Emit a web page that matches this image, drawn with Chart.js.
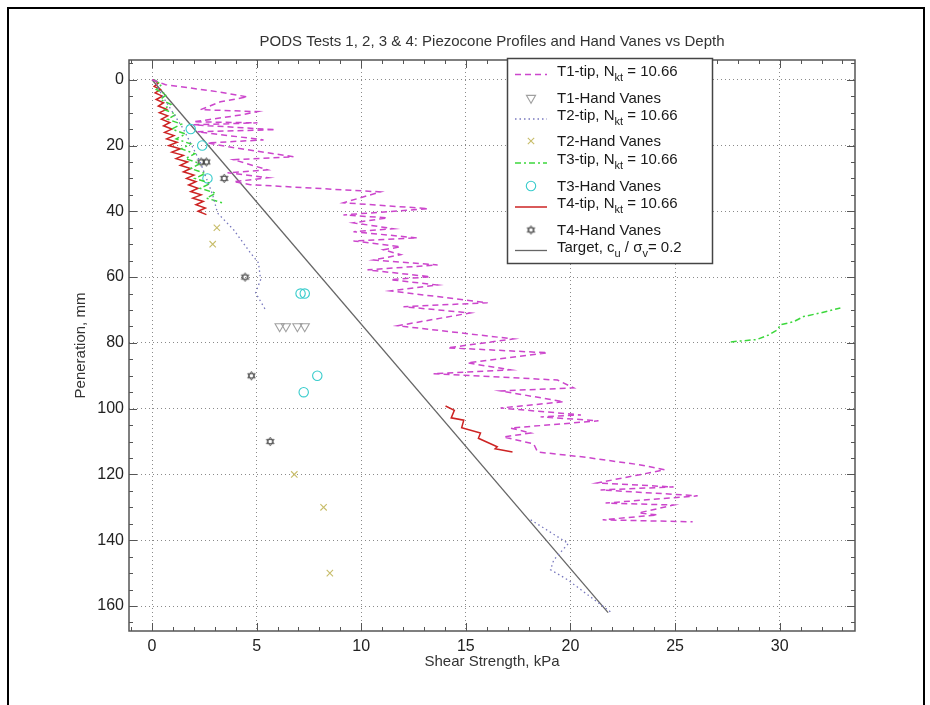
<!DOCTYPE html>
<html><head><meta charset="utf-8">
<script src="https://cdn.jsdelivr.net/npm/chart.js@4.4.1/dist/chart.umd.min.js"></script>
<style>
html,body{margin:0;padding:0;background:#fff;overflow:hidden;}
#wrap{position:relative;width:930px;height:705px;}
#frame{position:absolute;left:7px;top:7px;width:914px;height:720px;border:2px solid #000;pointer-events:none;}
canvas{position:absolute;left:0;top:0;}
</style></head><body>
<div id="wrap"><canvas id="c" width="930" height="705"></canvas><div id="frame"></div></div>
<script>
// ---------- data ----------
const chartTitle = 'PODS Tests 1, 2, 3 & 4: Piezocone Profiles and Hand Vanes vs Depth';
const xAxisTitle = 'Shear Strength, kPa';
const yAxisTitle = 'Peneration, mm';
const xTicks = [0, 5, 10, 15, 20, 25, 30];
const yTicks = [0, 20, 40, 60, 80, 100, 120, 140, 160];

const t1X = [0,0.65,3.13,4.56,3.27,2.32,5.04,4.37,1.98,5.04,1.98,5.9,2.17,5.33,2.65,3.66,6.76,3.9,5.52,3.61,5.57,3.9,4.7,10.92,9.15,13.2,9.15,11.25,9.63,11.54,9.63,12.69,9.63,11.88,11.07,11.88,10.59,13.65,10.3,13.3,11.4,13.65,11.4,16.04,12.02,15.2,11.74,17.28,14.13,18.9,15.08,17.14,13.45,19.38,20.15,16.66,19.67,16.66,20.5,18.57,21.34,17.14,18.1,16.8,18.24,18.43,20.63,23.35,24.5,21.27,24.93,21.44,26.08,21.68,24.93,23.26,24.16,21.54,25.84];
const t1Y = [0,1.5,3.65,5.2,6.7,9.1,9.7,10.6,12.8,13.1,13.7,15.2,15.8,18.3,19.2,20.4,23.4,24.3,27.4,28.3,29.8,31,31.9,34.1,37.4,39.2,41.1,42,43.5,45.3,46.2,48.1,49,50.8,51.7,53.2,54.8,56.3,57.8,59.9,60.8,62.4,64.2,67.8,69,70.9,74.8,78.8,81.5,83,86.1,88.2,89.4,91.3,93.7,94.6,97.9,99.8,101.9,102.5,103.7,105.9,107.4,108.6,110.7,113.2,114.7,117.1,118.6,122.6,123.8,124.7,126.5,128.7,129.3,131.7,132.3,133.8,134.4];

const t2X = [0.1,0.5,1.0,1.5,1.9,2.3,2.6,2.9,3.13,3.9,4.7,5.09,5.19,4.95,5.43,null,18.1,19.9,19.2,19.05,19.86,22.0];
const t2Y = [0,5,10,15,20,25,30,35,40.5,45.6,52.6,55.7,60.8,64.8,70,null,133.8,141,146,149,152,162.2];

const t3X = [0.1,0.45,0.2,0.7,0.4,0.9,0.55,1.15,0.75,1.4,0.95,1.6,1.15,1.85,1.4,2.05,1.6,2.3,1.85,2.55,2.05,2.8,2.3,3.05,2.6,3.4,null,27.66,28.9,29.47,29.9,30.04,30.66,31.14,31.95,32.9];
const t3Y = [0,1.5,3,4.5,6,7.5,9,10.5,12,13.5,15,16.5,18,19.5,21,22.5,24,25.5,27,28.5,30,31.5,33,34.5,36,37.5,null,79.7,79,77.6,76,74.5,73.6,72,70.9,69.4];

const t4X = [0.05,0.3,0.1,0.4,0.15,0.5,0.2,0.55,0.3,0.7,0.35,0.75,0.45,0.85,0.55,0.95,0.6,1.05,0.7,1.2,0.8,1.35,0.95,1.5,1.15,1.7,1.35,1.85,1.5,2.0,1.65,2.1,1.75,2.2,1.85,2.35,1.95,2.45,2.1,2.55,2.2,2.6,null,14.03,14.45,14.3,14.9,14.8,15.7,15.6,16.5,16.4,17.23];
const t4Y = [0,1,2,3,4,5,6,7,8,9,10,11,12,13,14,15,16,17,18,19,20,21,22,23,24,25,26,27,28,29,30,31,32,33,34,35,36,37,38,39,40,41,null,99.2,100.5,102.8,103.5,105.8,107.4,109,111.6,112.2,113.2];

const hv1X = [6.1, 6.4, 6.95, 7.3];
const hv1Y = [75, 75, 75, 75];
const hv2X = [3.1, 2.9, 6.8, 8.2, 8.5];
const hv2Y = [45, 50, 120, 130, 150];
const hv3X = [1.85, 2.4, 2.65, 7.1, 7.3, 7.9, 7.25];
const hv3Y = [15, 20, 30, 65, 65, 90, 95];
const hv4X = [2.35, 2.6, 3.45, 4.45, 4.75, 5.65];
const hv4Y = [25, 25, 30, 60, 90, 110];

const targetX = [0, 21.8];
const targetY = [0, 162];

const legendLabels = [
  ['T1-tip, N', 'kt', ' = 10.66'],
  ['T1-Hand Vanes'],
  ['T2-tip, N', 'kt', ' = 10.66'],
  ['T2-Hand Vanes'],
  ['T3-tip, N', 'kt', ' = 10.66'],
  ['T3-Hand Vanes'],
  ['T4-tip, N', 'kt', ' = 10.66'],
  ['T4-Hand Vanes'],
  ['Target, c', 'u', ' / \u03c3', 'v', '= 0.2']
];

// ---------- helpers ----------
const pts = (xs, ys) => xs.map((x, i) => ({x: x, y: ys[i]}));
const FONT = '"Liberation Sans", Arial, sans-serif';
Chart.defaults.font.family = FONT;

function makeHex() {
  const c = document.createElement('canvas');
  c.width = 11; c.height = 11;
  const g = c.getContext('2d');
  g.strokeStyle = '#444'; g.lineWidth = 0.9;
  const cx = 5.5, cy = 5.5, r = 4.3;
  [-Math.PI / 2, Math.PI / 2].forEach(off => {
    g.beginPath();
    for (let k = 0; k < 3; k++) {
      const a = off + k * 2 * Math.PI / 3;
      const px = cx + r * Math.cos(a), py = cy + r * Math.sin(a);
      if (k) g.lineTo(px, py); else g.moveTo(px, py);
    }
    g.closePath(); g.stroke();
  });
  return c;
}
const hexImg = makeHex();

const lineDs = (label, xs, ys, color, dash, w) => ({
  label, data: pts(xs, ys), showLine: true, borderColor: color, backgroundColor: color,
  borderWidth: w, borderDash: dash, pointRadius: 0, pointHoverRadius: 0, spanGaps: false, tension: 0
});
const markDs = (label, xs, ys, color, style, r, rot) => ({
  label, data: pts(xs, ys), showLine: false, borderColor: color, backgroundColor: 'rgba(0,0,0,0)',
  pointStyle: style, pointRadius: r, pointHoverRadius: r, pointBorderWidth: 1.1, pointRotation: rot || 0
});

const datasets = [
  lineDs('T1-tip', t1X, t1Y, 'rgb(204,70,204)', [6, 4], 1.5),
  markDs('T1-Hand Vanes', hv1X, hv1Y, '#a0a0a0', 'triangle', 5.3, 180),
  lineDs('T2-tip', t2X, t2Y, 'rgb(120,120,190)', [1.5, 3], 1.3),
  markDs('T2-Hand Vanes', hv2X, hv2Y, '#c8bd6a', 'crossRot', 4.5),
  lineDs('T3-tip', t3X, t3Y, 'rgb(60,215,60)', [6, 3, 2, 3], 1.5),
  markDs('T3-Hand Vanes', hv3X, hv3Y, '#38cccc', 'circle', 4.7),
  lineDs('T4-tip', t4X, t4Y, 'rgb(205,35,35)', [], 1.5),
  markDs('T4-Hand Vanes', hv4X, hv4Y, '#444', hexImg, 5),
  lineDs('Target', targetX, targetY, '#666', [], 1.3)
];

// ---------- plugin: title, box, minor ticks, legend ----------
const decor = {
  id: 'decor',
  afterDatasetsDraw(chart) {
    const {ctx, chartArea: a, scales: {x, y}} = chart;
    ctx.save();
    ctx.strokeStyle = '#555'; ctx.lineWidth = 1;
    ctx.beginPath();
    for (let v = -1; v <= 33; v++) {
      const px = Math.round(x.getPixelForValue(v)) + 0.5;
      const L = (v % 5 === 0) ? 8 : 4;
      ctx.moveTo(px, a.bottom); ctx.lineTo(px, a.bottom - L);
      ctx.moveTo(px, a.top); ctx.lineTo(px, a.top + L);
    }
    for (let v = -5; v <= 165; v += 5) {
      const py = Math.round(y.getPixelForValue(v)) + 0.5;
      const L = (v % 20 === 0) ? 8 : 4;
      ctx.moveTo(a.left, py); ctx.lineTo(a.left + L, py);
      ctx.moveTo(a.right, py); ctx.lineTo(a.right - L, py);
    }
    ctx.stroke();
    ctx.lineWidth = 1.5;
    ctx.strokeRect(a.left, a.top, a.right - a.left, a.bottom - a.top);
    ctx.restore();
  },
  afterDraw(chart) {
    const {ctx, chartArea: a} = chart;
    ctx.save();
    // title
    ctx.fillStyle = '#333';
    ctx.font = '15px ' + FONT;
    ctx.textAlign = 'center'; ctx.textBaseline = 'middle';
    ctx.fillText(chartTitle, (a.left + a.right) / 2, 42);
    // legend
    const bx = 507, by = 58, bw = 205, bh = 205;
    ctx.fillStyle = '#fff';
    ctx.fillRect(bx, by, bw, bh);
    ctx.strokeStyle = '#444'; ctx.lineWidth = 1.5;
    ctx.strokeRect(bx + 0.5, by + 0.5, bw, bh);
    const rowY = [71.5, 99, 116, 142, 160, 187, 204, 231, 247.5];
    legendLabels.forEach((segs, i) => {
      const ds = datasets[i];
      const cy = rowY[i];
      if (ds.showLine) {
        ctx.save();
        ctx.strokeStyle = ds.borderColor; ctx.lineWidth = ds.borderWidth;
        ctx.setLineDash(ds.borderDash || []);
        ctx.beginPath(); ctx.moveTo(515, cy + 3); ctx.lineTo(547, cy + 3); ctx.stroke();
        ctx.restore();
      } else {
        ctx.save();
        ctx.strokeStyle = ds.borderColor; ctx.fillStyle = 'rgba(0,0,0,0)'; ctx.lineWidth = ds.pointBorderWidth;
        Chart.helpers.drawPoint(ctx, {pointStyle: ds.pointStyle, radius: ds.pointRadius, rotation: ds.pointRotation, borderWidth: ds.pointBorderWidth}, 531, cy - 1);
        ctx.restore();
      }
      let tx = 557;
      ctx.fillStyle = '#1a1a1a'; ctx.textAlign = 'left'; ctx.textBaseline = 'middle';
      segs.forEach((s, k) => {
        const sub = (k % 2 === 1);
        ctx.font = (sub ? '11px ' : '15px ') + FONT;
        ctx.fillText(s, tx, sub ? cy + 6 : cy);
        tx += ctx.measureText(s).width;
      });
    });
    ctx.restore();
  }
};

new Chart(document.getElementById('c'), {
  type: 'scatter',
  data: {datasets},
  options: {
    responsive: false, animation: false, events: [],
    layout: {padding: {left: 68, top: 60, right: 75, bottom: 30}},
    plugins: {legend: {display: false}, title: {display: false}, tooltip: {enabled: false}},
    scales: {
      x: {
        type: 'linear', min: -1.1, max: 33.6,
        afterBuildTicks: s => { s.ticks = xTicks.map(v => ({value: v})); },
        afterFit: s => { s.height = 44; },
        grid: {color: '#8a8a8a', lineWidth: 1, drawTicks: false},
        border: {display: false, dash: [1, 3]},
        ticks: {color: '#222', font: {size: 16}, padding: 6, maxRotation: 0, autoSkip: false},
        title: {display: true, text: xAxisTitle, color: '#333', font: {size: 15}, padding: {top: 4, bottom: 4}}
      },
      y: {
        type: 'linear', min: -6, max: 167.6, reverse: true,
        afterBuildTicks: s => { s.ticks = yTicks.map(v => ({value: v})); },
        afterFit: s => { s.width = 61; },
        grid: {color: '#8a8a8a', lineWidth: 1, drawTicks: false},
        border: {display: false, dash: [1, 3]},
        ticks: {color: '#222', font: {size: 16}, padding: 5, autoSkip: false},
        title: {display: true, text: yAxisTitle, color: '#333', font: {size: 15}, padding: {top: 4, bottom: 4}}
      }
    }
  },
  plugins: [decor]
});
</script>
</body></html>
